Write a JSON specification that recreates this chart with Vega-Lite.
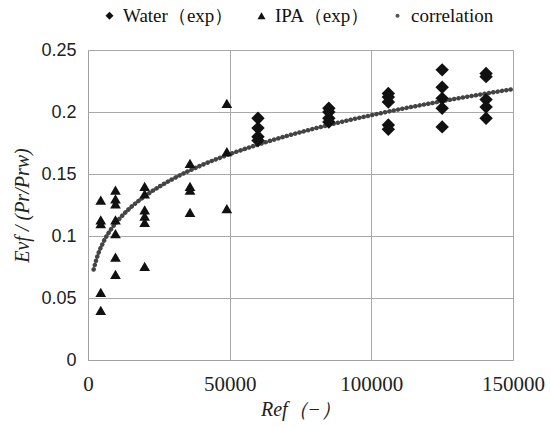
{
  "$schema": "https://vega.github.io/schema/vega-lite/v6.json",
  "width": 425,
  "height": 310,
  "autosize": {"type": "none"},
  "padding": {"left": 88, "top": 50, "right": 38, "bottom": 67},
  "background": "white",
  "config": {
    "view": {"stroke": null},
    "axis": {
      "grid": true,
      "gridColor": "#a8a8a8",
      "gridWidth": 1,
      "domainColor": "#a0a0a0",
      "ticks": false,
      "labelColor": "#222",
      "titleColor": "#222",
      "titleFontWeight": "normal",
      "labelOverlap": false
    }
  },
  "datasets": {
    "water": [
      {"series": "Water（exp）", "Re": 60000, "y": 0.195},
      {"series": "Water（exp）", "Re": 60000, "y": 0.187},
      {"series": "Water（exp）", "Re": 60000, "y": 0.180},
      {"series": "Water（exp）", "Re": 60000, "y": 0.177},
      {"series": "Water（exp）", "Re": 85000, "y": 0.203},
      {"series": "Water（exp）", "Re": 85000, "y": 0.200},
      {"series": "Water（exp）", "Re": 85000, "y": 0.195},
      {"series": "Water（exp）", "Re": 85000, "y": 0.192},
      {"series": "Water（exp）", "Re": 106000, "y": 0.215},
      {"series": "Water（exp）", "Re": 106000, "y": 0.212},
      {"series": "Water（exp）", "Re": 106000, "y": 0.208},
      {"series": "Water（exp）", "Re": 106000, "y": 0.1895},
      {"series": "Water（exp）", "Re": 106000, "y": 0.186},
      {"series": "Water（exp）", "Re": 125000, "y": 0.234},
      {"series": "Water（exp）", "Re": 125000, "y": 0.220},
      {"series": "Water（exp）", "Re": 125000, "y": 0.211},
      {"series": "Water（exp）", "Re": 125000, "y": 0.203},
      {"series": "Water（exp）", "Re": 125000, "y": 0.188},
      {"series": "Water（exp）", "Re": 140500, "y": 0.231},
      {"series": "Water（exp）", "Re": 140500, "y": 0.2285},
      {"series": "Water（exp）", "Re": 140500, "y": 0.210},
      {"series": "Water（exp）", "Re": 140500, "y": 0.204},
      {"series": "Water（exp）", "Re": 140500, "y": 0.195}
    ],
    "ipa": [
      {"series": "IPA（exp）", "Re": 4500, "y": 0.129},
      {"series": "IPA（exp）", "Re": 4500, "y": 0.113},
      {"series": "IPA（exp）", "Re": 4500, "y": 0.110},
      {"series": "IPA（exp）", "Re": 4500, "y": 0.0545},
      {"series": "IPA（exp）", "Re": 4500, "y": 0.040},
      {"series": "IPA（exp）", "Re": 9700, "y": 0.137},
      {"series": "IPA（exp）", "Re": 9700, "y": 0.130},
      {"series": "IPA（exp）", "Re": 9700, "y": 0.126},
      {"series": "IPA（exp）", "Re": 9700, "y": 0.113},
      {"series": "IPA（exp）", "Re": 9700, "y": 0.102},
      {"series": "IPA（exp）", "Re": 9700, "y": 0.083},
      {"series": "IPA（exp）", "Re": 9700, "y": 0.069},
      {"series": "IPA（exp）", "Re": 20000, "y": 0.140},
      {"series": "IPA（exp）", "Re": 20000, "y": 0.134},
      {"series": "IPA（exp）", "Re": 20000, "y": 0.121},
      {"series": "IPA（exp）", "Re": 20000, "y": 0.116},
      {"series": "IPA（exp）", "Re": 20000, "y": 0.111},
      {"series": "IPA（exp）", "Re": 20000, "y": 0.0755},
      {"series": "IPA（exp）", "Re": 36000, "y": 0.1585},
      {"series": "IPA（exp）", "Re": 36000, "y": 0.140},
      {"series": "IPA（exp）", "Re": 36000, "y": 0.137},
      {"series": "IPA（exp）", "Re": 36000, "y": 0.119},
      {"series": "IPA（exp）", "Re": 49000, "y": 0.207},
      {"series": "IPA（exp）", "Re": 49000, "y": 0.168},
      {"series": "IPA（exp）", "Re": 49000, "y": 0.122}
    ],
    "corr": [
      {"Re": 2000, "y": 0.073},
      {"Re": 3000, "y": 0.0815},
      {"Re": 4000, "y": 0.088},
      {"Re": 5000, "y": 0.093},
      {"Re": 6000, "y": 0.0977},
      {"Re": 8000, "y": 0.105},
      {"Re": 10000, "y": 0.111},
      {"Re": 12500, "y": 0.1174},
      {"Re": 15000, "y": 0.1229},
      {"Re": 20000, "y": 0.132},
      {"Re": 25000, "y": 0.1396},
      {"Re": 30000, "y": 0.1461},
      {"Re": 40000, "y": 0.157},
      {"Re": 50000, "y": 0.166},
      {"Re": 60000, "y": 0.1737},
      {"Re": 70000, "y": 0.1806},
      {"Re": 80000, "y": 0.1867},
      {"Re": 90000, "y": 0.1923},
      {"Re": 100000, "y": 0.1974},
      {"Re": 110000, "y": 0.2022},
      {"Re": 120000, "y": 0.2066},
      {"Re": 130000, "y": 0.2108},
      {"Re": 140000, "y": 0.2147},
      {"Re": 150000, "y": 0.2185}
    ]
  },
  "encoding": {
    "x": {
      "field": "Re",
      "type": "quantitative",
      "scale": {"domain": [0, 150000], "nice": false},
      "axis": {
        "values": [0, 50000, 100000, 150000],
        "format": "d",
        "labelFlush": false,
        "labelFont": "Liberation Serif",
        "labelFontSize": 21,
        "labelPadding": 13,
        "title": "Ref（−）",
        "titleFont": "Liberation Serif",
        "titleFontStyle": "italic",
        "titleFontSize": 20,
        "titlePadding": 5
      }
    },
    "y": {
      "field": "y",
      "type": "quantitative",
      "scale": {"domain": [0, 0.25], "nice": false},
      "axis": {
        "values": [0, 0.05, 0.1, 0.15, 0.2, 0.25],
        "format": "~g",
        "labelFlush": false,
        "labelFont": "Liberation Sans",
        "labelFontSize": 18,
        "labelPadding": 12,
        "title": "Evf / (Pr/Prw)",
        "titleFont": "Liberation Serif",
        "titleFontStyle": "italic",
        "titleFontSize": 20,
        "titlePadding": 8
      }
    }
  },
  "layer": [
    {
      "data": {"name": "corr"},
      "mark": {
        "type": "line",
        "interpolate": "monotone",
        "stroke": "#444",
        "strokeWidth": 4.5,
        "strokeCap": "round",
        "strokeDash": [0.1, 4.3]
      },
      "encoding": {}
    },
    {
      "data": {"name": "water"},
      "mark": {"type": "point", "filled": true, "opacity": 1, "size": 180},
      "encoding": {
        "shape": {"field": "series", "type": "nominal", "scale": {"domain": ["Water（exp）", "IPA（exp）", "correlation"], "range": ["diamond", "triangle-up", "M-0.5,0A0.5,0.5 0 1,0 0.5,0A0.5,0.5 0 1,0 -0.5,0Z"]}, "legend": {"title": null, "orient": "none", "direction": "horizontal", "legendX": 12, "legendY": -44, "symbolSize": 64, "labelFont": "Liberation Serif", "labelFontSize": 19, "labelColor": "#111", "labelOffset": 4, "columnPadding": 18, "labelExpr": "datum.label === 'IPA（exp）' ? datum.label + '\u00a0\u00a0\u00a0\u00a0' : datum.label"}},
        "color": {"field": "series", "type": "nominal", "scale": {"domain": ["Water（exp）", "IPA（exp）", "correlation"], "range": ["#111", "#111", "#555"]}}
      }
    },
    {
      "data": {"name": "ipa"},
      "mark": {"type": "point", "filled": true, "opacity": 1, "size": 115},
      "encoding": {
        "shape": {"field": "series", "type": "nominal"},
        "color": {"field": "series", "type": "nominal"}
      }
    }
  ]
}
